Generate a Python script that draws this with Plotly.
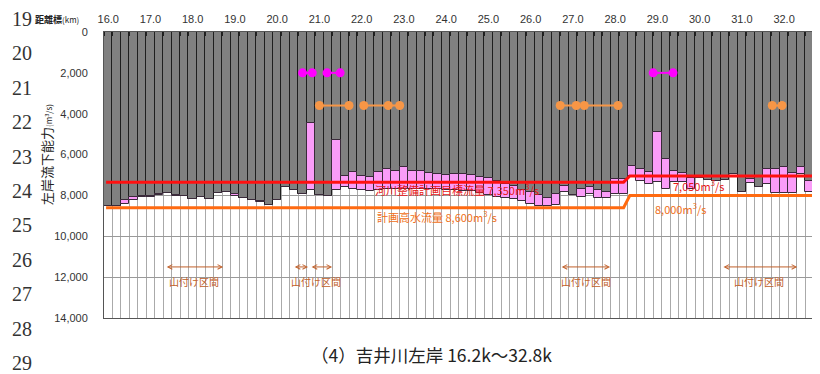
import plotly.graph_objects as go

# ---------------- data ----------------
km = [round(16.0 + 0.2 * i, 1) for i in range(85)]
# gray bar bottom (current capacity boundary) per section, m3/s
gray_val = [8500, 8540, 8230, 8080, 8040, 8040, 7920, 7880, 8000, 8010,
            8160, 8060, 8170, 7880, 7830, 7930, 8150, 8240, 8290, 8480,
            8240, 7580, 7750, 7920, 4450, 8000, 8040, 5280, 7040, 6850,
            7030, 7090, 6870, 6720, 6780, 6630, 6810, 6820, 6890, 6930,
            7010, 6940, 6960, 7000, 7080, 7170, 7280, 7420, 7540, 7730,
            7850, 8000, 8120, 7910, 7520, 7990, 7665, 7580, 7745, 7825,
            7205, 7205, 6550, 6715, 6850, 4900, 6225, 6815, 6880, 7170,
            7170, 7255, 7305, 7255, 6930, 7825, 7220, 7580, 6715, 6715,
            6600, 6880, 6600, 7305, 7875]
# pink bar bottom per section
pink_val = [8500, 8540, 8400, 8200, 8090, 8080, 7990, 7880, 8040, 8010,
            8160, 8060, 8170, 7880, 7830, 8020, 8150, 8240, 8330, 8480,
            8240, 7580, 7750, 7920, 7710, 8000, 8040, 7710, 7600, 7700,
            7750, 7770, 7750, 7700, 7700, 7680, 7680, 7680, 7690, 7700,
            7720, 7720, 7800, 7800, 7880, 7990, 8060, 8150, 8180, 8290,
            8400, 8500, 8500, 8480, 7825, 7990, 8060, 7910, 8105, 8150,
            7910, 7910, 7040, 7290, 7420, 7335, 7665, 7335, 7335, 7700,
            7170, 7255, 7305, 7255, 6930, 7825, 7385, 7580, 7420, 7875,
            7875, 7875, 6960, 7825, 7875]

target_x = [15.95, 28.2, 28.35, 33.2]
target_y = [7350, 7350, 7050, 7050]
plan_x = [15.95, 28.2, 28.35, 33.2]
plan_y = [8600, 8600, 8000, 8000]

magenta_x = [20.6, 20.83, None, 21.18, 21.49, None, 28.9, 29.37]
magenta_y = [2000, 2000, None, 2000, 2000, None, 2000, 2000]
orange_x = [21.0, 21.7, None, 22.05, 22.63, 22.9, None,
            26.7, 27.08, 27.27, 28.07, None, 31.72, 31.95]
orange_y = [3600, 3600, None, 3600, 3600, 3600, None,
            3600, 3600, 3600, 3600, None, 3600, 3600]

mount_start = [17.35, 20.38, 20.78, 26.70, 30.53]
mount_end = [18.72, 20.73, 21.30, 27.88, 32.31]
mount_label_x = [18.04, 20.91, 27.31, 31.41]
mount_y = 11500
mount_label_y = 12200

y_ticks = [0, 2000, 4000, 6000, 8000, 10000, 12000, 14000]
line_numbers = ["19", "20", "21", "22", "23", "24", "25", "26", "27", "28", "29"]

# ---------------- figure ----------------
# page body has an 8px margin, so the figure is placed at (8, 8) on screen
OFF = 8
SW, SH = 820, 374               # screen size
PL, PT, PR, PB = 104, 32, 820, 318   # plot area in screen pixels
W, H = SW - OFF, SH - OFF
L, T = PL - OFF, PT - OFF
R, B = SW - PR, SH - PB
PW, PH = PR - PL, PB - PT


def px(x):
    return (x - PL) / PW


def py(y):
    return (PB - y) / PH


fig = go.Figure()

fig.add_trace(go.Bar(
    x=km, y=gray_val, base=[0] * len(km), width=0.2,
    marker=dict(color="#808080", line=dict(color="#1e1e1e", width=1)),
    hoverinfo="skip", showlegend=False))
fig.add_trace(go.Bar(
    x=km, y=[p - g for p, g in zip(pink_val, gray_val)], base=gray_val, width=0.2,
    marker=dict(color="#fa9cf8", line=dict(color="#3a2a3a", width=1)),
    hoverinfo="skip", showlegend=False))

fig.add_trace(go.Scatter(x=plan_x, y=plan_y, mode="lines",
                         line=dict(color="#ff6a10", width=3), showlegend=False))
fig.add_trace(go.Scatter(x=target_x, y=target_y, mode="lines",
                         line=dict(color="#ff1010", width=3), showlegend=False))

fig.add_trace(go.Scatter(x=magenta_x, y=magenta_y, mode="lines+markers",
                         line=dict(color="#ff00ff", width=2),
                         marker=dict(color="#ff00ff", size=9), showlegend=False))
fig.add_trace(go.Scatter(x=orange_x, y=orange_y, mode="lines+markers",
                         line=dict(color="#f79646", width=2),
                         marker=dict(color="#f79646", size=9), showlegend=False))

ann = []
brown = "#c0602a"
for s, e in zip(mount_start, mount_end):
    ann.append(dict(x=e, y=mount_y, ax=s, ay=mount_y, xref="x", yref="y",
                    axref="x", ayref="y", text="", showarrow=True,
                    arrowside="end+start", arrowhead=5, arrowsize=0.9,
                    arrowwidth=1, arrowcolor=brown, standoff=0, startstandoff=0))
for lx in mount_label_x:
    ann.append(dict(x=lx, y=mount_label_y, xref="x", yref="y", text="山付け区間",
                    showarrow=False, xanchor="center", yanchor="middle",
                    font=dict(size=10, color=brown, family="Noto Sans CJK JP")))

jp = "Noto Sans CJK JP"
txt = [
    dict(x=457, y=189, text="河川整備計画目標流量 7,350m<sup>3</sup>/s",
         font=dict(size=11, color="#e81818", family=jp)),
    dict(x=437, y=216, text="計画高水流量 8,600m<sup>3</sup>/s",
         font=dict(size=11, color="#f07020", family=jp)),
    dict(x=698, y=185, text="7,050m<sup>3</sup>/s",
         font=dict(size=11, color="#e81818", family=jp)),
    dict(x=680, y=208, text="8,000m<sup>3</sup>/s",
         font=dict(size=11, color="#f07020", family=jp)),
    dict(x=431, y=354, text="（4）吉井川左岸 16.2k～32.8k",
         font=dict(size=17.5, color="#222222", family=jp)),
    dict(x=46, y=155, textangle=-90,
         text="左岸流下能力<span style='font-size:8px'>(m<sup>3</sup>/s)</span>",
         font=dict(size=13, color="#222", family=jp)),
]
for k, t in enumerate(line_numbers):
    txt.append(dict(x=22, y=19 + 34.4 * k, text=t,
                    font=dict(size=20, color="#333", family="Liberation Serif")))
for a in txt:
    a.update(x=px(a["x"]), y=py(a["y"]), xref="paper", yref="paper",
             xanchor="center", yanchor="middle", showarrow=False)
ann += txt

ann.append(dict(x=px(33), y=py(19), xref="paper", yref="paper",
                xanchor="left", yanchor="middle",
                text="<b>距離標</b><span style='font-size:8px'>(km)</span>",
                showarrow=False, font=dict(size=9, color="#222", family=jp)))

fig.update_layout(
    width=W, height=H,
    margin=dict(l=L, r=R, t=T, b=B, pad=0),
    paper_bgcolor="white", plot_bgcolor="white",
    barmode="overlay", bargap=0,
    annotations=ann,
    font=dict(family="Liberation Sans, Arial", size=11, color="#333"),
)
fig.update_xaxes(
    range=[15.9, 32.85], side="top", tick0=16, dtick=1, tickformat=".1f",
    ticks="", showgrid=False, zeroline=False,
    showline=True, mirror=True, linecolor="#555", linewidth=1,
    tickfont=dict(size=11, color="#333"), ticklabelstandoff=4,
    minor=dict(tick0=15.9, dtick=0.2, ticks="inside", ticklen=4,
               tickcolor="#222", showgrid=True, gridcolor="#aaaaaa", gridwidth=1),
)
fig.update_yaxes(
    range=[14000, 0], tickvals=y_ticks, tickformat=",", ticks="",
    showgrid=True, gridcolor="#999999", gridwidth=1, zeroline=False,
    showline=True, linecolor="#555", linewidth=1,
    tickfont=dict(size=11, color="#333"), ticklabelstandoff=13,
)

fig.write_html("out.html")
